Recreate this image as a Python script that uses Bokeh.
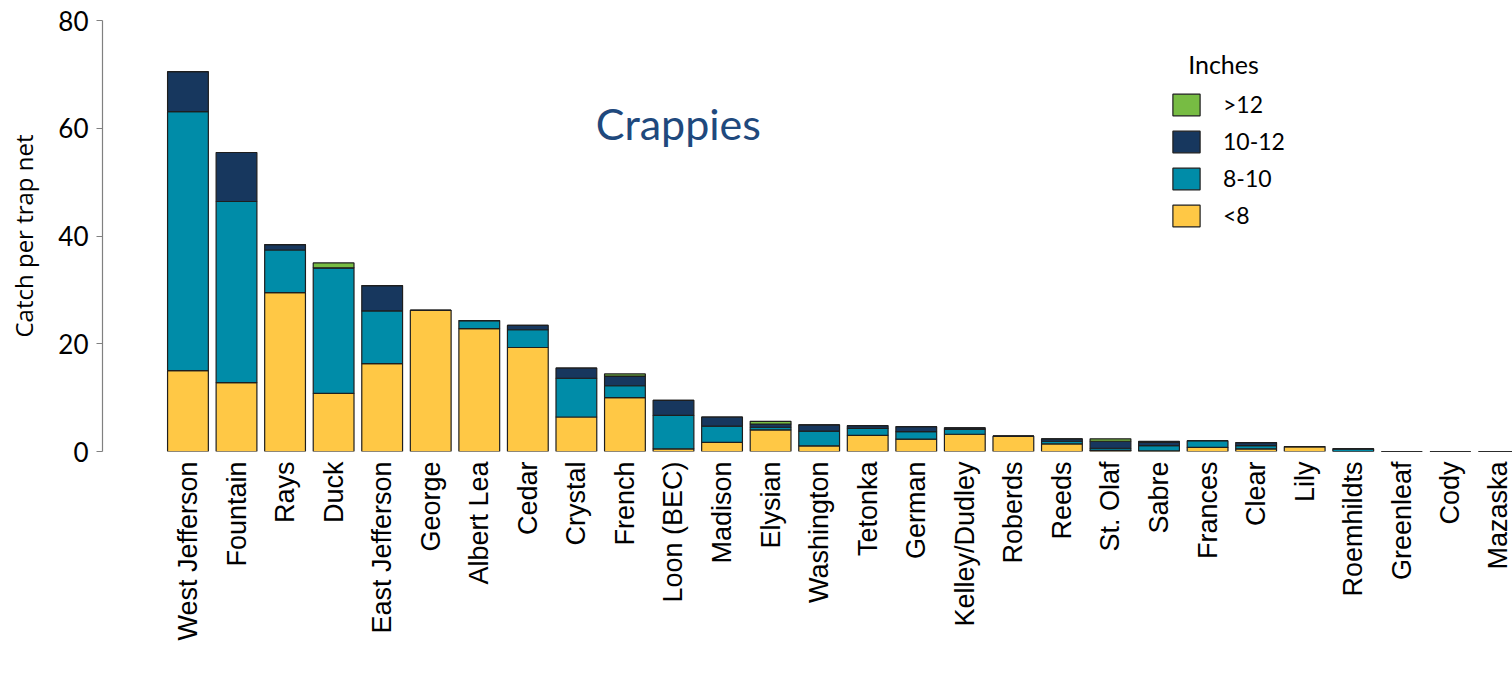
from bokeh.plotting import figure
from bokeh.models import Range1d, FixedTicker, Legend, LegendItem, Label, ColumnDataSource
from bokeh.embed import file_html
from bokeh.resources import INLINE

lakes = ["West Jefferson", "Fountain", "Rays", "Duck", "East Jefferson", "George",
         "Albert Lea", "Cedar", "Crystal", "French", "Loon (BEC)", "Madison", "Elysian",
         "Washington", "Tetonka", "German", "Kelley/Dudley", "Roberds", "Reeds",
         "St. Olaf", "Sabre", "Frances", "Clear", "Lily", "Roemhildts", "Greenleaf",
         "Cody", "Mazaska"]

lt8 = [15.0, 12.8, 29.5, 10.8, 16.3, 26.2, 22.8, 19.3, 6.4, 10.0, 0.5, 1.7, 4.0,
       1.05, 3.0, 2.3, 3.2, 2.85, 1.4, 0.2, 0.1, 0.75, 0.5, 0.9, 0.0, 0.0, 0.0, 0.0]
in8_10 = [48.1, 33.6, 7.9, 23.3, 9.8, 0.0, 1.5, 3.3, 7.2, 2.2, 6.2, 3.0, 0.5,
          2.75, 1.3, 1.4, 0.9, 0.0, 0.5, 0.4, 1.0, 1.25, 0.6, 0.0, 0.5, 0.0, 0.0, 0.0]
in10_12 = [7.4, 9.1, 1.0, 0.0, 4.7, 0.0, 0.0, 0.8, 1.9, 1.8, 2.8, 1.7, 0.6,
           1.15, 0.5, 0.9, 0.3, 0.0, 0.45, 1.3, 0.6, 0.0, 0.55, 0.0, 0.0, 0.0, 0.0, 0.0]
gt12 = [0.0, 0.0, 0.0, 0.9, 0.0, 0.0, 0.0, 0.0, 0.0, 0.4, 0.0, 0.0, 0.5,
        0.0, 0.0, 0.0, 0.0, 0.0, 0.0, 0.45, 0.2, 0.0, 0.0, 0.0, 0.0, 0.0, 0.0, 0.0]

size_classes = ["<8", "8-10", "10-12", ">12"]
colors = ["#FFC845", "#008CA8", "#17375E", "#77BC43"]
y_ticks = [0, 20, 40, 60, 80]

src = ColumnDataSource(dict(x=list(range(len(lakes))), lt8=lt8, in8_10=in8_10,
                            in10_12=in10_12, gt12=gt12))

p = figure(width=1512, height=687, output_backend="svg", toolbar_location=None,
           x_range=Range1d(-1.76, 27.28), y_range=Range1d(0, 80),
           min_border_left=102, min_border_right=0, min_border_top=20, min_border_bottom=236)
p.outline_line_color = None
p.grid.grid_line_color = None
p.background_fill_color = "white"

rs = p.vbar_stack(["lt8", "in8_10", "in10_12", "gt12"], x="x", width=0.84, source=src,
                  fill_color=colors, line_color="#1e1e1e", line_width=1.2)

# x axis
p.xaxis.ticker = FixedTicker(ticks=list(range(len(lakes))))
p.xaxis.major_label_overrides = {i: name for i, name in enumerate(lakes)}
p.xaxis.major_label_orientation = 3.14159265 / 2
p.xaxis.axis_line_color = None
p.xaxis.major_tick_line_color = None
p.xaxis.minor_tick_line_color = None
p.xaxis.major_label_standoff = 4
p.xaxis.major_label_text_font = "Liberation Sans"
p.xaxis.major_label_text_font_size = "27px"
p.xaxis.major_label_text_color = "black"

# y axis
p.yaxis.ticker = FixedTicker(ticks=y_ticks)
p.yaxis.axis_line_color = "#808080"
p.yaxis.axis_line_width = 1.2
p.yaxis.major_tick_line_color = "#808080"
p.yaxis.major_tick_out = 6
p.yaxis.major_tick_in = 0
p.yaxis.minor_tick_line_color = None
p.yaxis.major_label_standoff = 8
p.yaxis.major_label_text_font = "Lato"
p.yaxis.major_label_text_font_size = "26px"
p.yaxis.major_label_text_color = "black"
p.yaxis.axis_label = "Catch per trap net"
p.yaxis.axis_label_text_font = "Open Sans"
p.yaxis.axis_label_text_font_size = "24px"
p.yaxis.axis_label_text_font_style = "normal"
p.yaxis.axis_label_text_color = "black"
p.yaxis.axis_label_standoff = 15

# legend
items = [LegendItem(label=">12", renderers=[rs[3]]),
         LegendItem(label="10-12", renderers=[rs[2]]),
         LegendItem(label="8-10", renderers=[rs[1]]),
         LegendItem(label="<8", renderers=[rs[0]])]
legend = Legend(items=items, location=(1067, 222), padding=0, margin=0,
                border_line_color=None, background_fill_alpha=0,
                glyph_width=34, glyph_height=27, label_height=27, spacing=9,
                label_standoff=20, label_text_font="Lato", label_text_font_size="23px",
                label_text_color="black")
p.add_layout(legend, "center")

p.add_layout(Label(x=20.6, y=71.9, text="Inches", text_font="Lato", text_font_size="25px",
                   text_baseline="middle", text_align="left", text_color="black"))
p.add_layout(Label(x=10.1, y=60.8, text="Crappies", text_font="Lato", text_font_size="43px",
                   text_baseline="middle", text_align="center", text_color="#1F497D"))
p.add_layout(Label(x=-2.83, y=-39.9, text="120", text_font="Lato", text_font_size="26px",
                   text_baseline="top", text_align="left", text_color="black"))

open("out.html", "w").write(file_html(p, INLINE))
